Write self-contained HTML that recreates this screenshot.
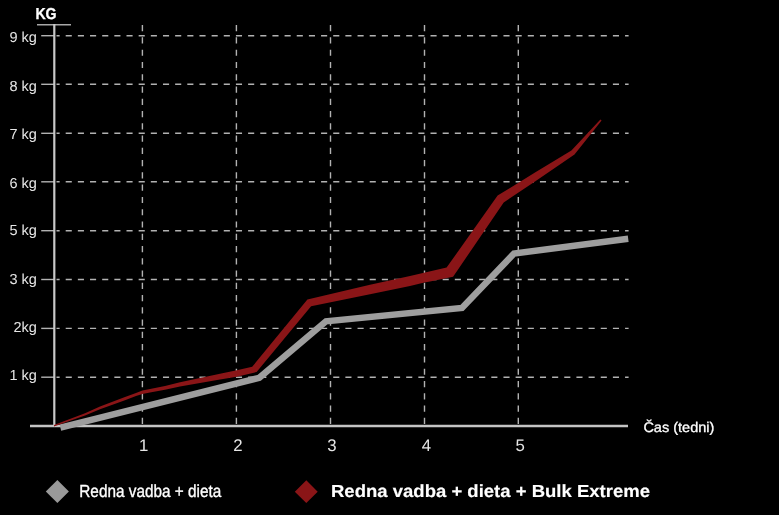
<!DOCTYPE html>
<html>
<head>
<meta charset="utf-8">
<style>
html,body{margin:0;padding:0;background:#000;width:779px;height:515px;overflow:hidden}
svg{display:block;will-change:transform;text-rendering:geometricPrecision}
.yl{font-family:"Liberation Sans",Arial,sans-serif;font-size:14.5px;fill:#e6e6e6}
.xl{font-family:"Liberation Sans",Arial,sans-serif;font-size:16.8px;fill:#e6e6e6}
</style>
</head>
<body>
<svg width="779" height="515" viewBox="0 0 779 515">
<rect x="0" y="0" width="779" height="515" fill="#000"/>
<!-- horizontal dashed gridlines -->
<g stroke="#b2b2b2" stroke-width="1.4" fill="none">
<g stroke-dasharray="6.1 6.06" stroke-dashoffset="2.96">
<line x1="56.5" y1="35.7" x2="628.6" y2="35.7"/>
<line x1="56.5" y1="84.3" x2="628.6" y2="84.3"/>
<line x1="56.5" y1="133.3" x2="628.6" y2="133.3"/>
<line x1="56.5" y1="181.8" x2="628.6" y2="181.8"/>
<line x1="56.5" y1="230.7" x2="628.6" y2="230.7"/>
<line x1="56.5" y1="279.5" x2="628.6" y2="279.5"/>
<line x1="56.5" y1="328.4" x2="628.6" y2="328.4"/>
<line x1="56.5" y1="377.2" x2="628.6" y2="377.2"/>
</g>
<!-- ticks -->
<line x1="41.2" y1="35.7" x2="54" y2="35.7"/>
<line x1="41.2" y1="84.3" x2="54" y2="84.3"/>
<line x1="41.2" y1="133.3" x2="54" y2="133.3"/>
<line x1="41.2" y1="181.8" x2="54" y2="181.8"/>
<line x1="41.2" y1="230.7" x2="54" y2="230.7"/>
<line x1="41.2" y1="279.5" x2="54" y2="279.5"/>
<line x1="41.2" y1="328.4" x2="54" y2="328.4"/>
<line x1="41.2" y1="377.2" x2="54" y2="377.2"/>
<!-- vertical dashed gridlines -->
<g stroke-dasharray="6.2 6.07">
<line x1="142.4" y1="25.1" x2="142.4" y2="425"/>
<line x1="236.4" y1="25.1" x2="236.4" y2="425"/>
<line x1="330.5" y1="25.1" x2="330.5" y2="425"/>
<line x1="424.5" y1="25.1" x2="424.5" y2="425"/>
<line x1="518.3" y1="25.1" x2="518.3" y2="425"/>
</g>
</g>
<!-- axes -->
<line x1="37" y1="24.75" x2="71" y2="24.75" stroke="#a8a8a8" stroke-width="1.5"/>
<line x1="54.3" y1="24" x2="54.3" y2="426" stroke="#c8c8c8" stroke-width="2.2"/>
<line x1="30" y1="426" x2="628" y2="426" stroke="#c4c4c4" stroke-width="2.3"/>

<!-- gray series -->
<polyline points="60.4,427.6 259.3,377.8 326,321.3 462,308 514,253.5 628.2,238.8" fill="none" stroke="#9e9e9e" stroke-width="6.5" stroke-linejoin="miter" stroke-linecap="butt"/>
<!-- red series -->
<polygon fill="#8a1517" points="54,424.9 85,413.2 100,406.5 125,397.1 136,393 142.4,390.6 150,388.9 165,385.9 180,382.3 220,373.8 236.8,370.3 252.2,366.8 307.4,299.5 370,284.7 410,275.9 446.6,267.6 497.6,195.6 535,172.6 571.4,150.4 600.4,119.6 601.6,120.6 574.5,154.4 535,181.4 503.7,202.4 453.1,276.8 430,281.6 424.4,282.6 410,286.1 370,294.2 311.1,306.2 256.6,372 236.8,376.7 220,379.6 180,386.5 165,389.8 150,392.6 142.4,394 136,396.1 125,400.3 100,409.3 85,415.6 54,426.6"/>

<!-- labels -->
<text x="0" y="0" transform="translate(35.4 18.8) scale(1 0.99)" font-family="Liberation Sans,Arial,sans-serif" font-weight="bold" font-size="16" fill="#fff" stroke="#fff" stroke-width="0.3" textLength="21.2" lengthAdjust="spacingAndGlyphs">KG</text>
<g class="yl" text-anchor="end">
<text x="36.8" y="42.2">9 kg</text>
<text x="36.8" y="91.2">8 kg</text>
<text x="36.8" y="139.1">7 kg</text>
<text x="36.8" y="187.9">6 kg</text>
<text x="36.8" y="235.3">5 kg</text>
<text x="36.8" y="284.3">3 kg</text>
<text x="36.8" y="332.0">2kg</text>
<text x="36.8" y="379.7">1 kg</text>
</g>
<g class="xl" text-anchor="middle">
<text x="143.6" y="450.8">1</text>
<text x="238" y="450.8">2</text>
<text x="332" y="450.8">3</text>
<text x="426.4" y="450.8">4</text>
<text x="520.2" y="450.8">5</text>
</g>
<text x="643.4" y="432" font-family="Liberation Sans,Arial,sans-serif" font-size="14" fill="#fff" stroke="#fff" stroke-width="0.3" textLength="71" lengthAdjust="spacingAndGlyphs">Čas (tedni)</text>

<!-- legend -->
<polygon points="57.4,480.1 68.9,491.5 57.4,503 45.8,491.5" fill="#999"/>
<text x="79.3" y="497.3" font-family="Liberation Sans,Arial,sans-serif" font-size="17.5" fill="#fff" stroke="#fff" stroke-width="0.35" textLength="142" lengthAdjust="spacingAndGlyphs">Redna vadba + dieta</text>
<polygon points="306.3,480.3 317.7,491.7 306.3,503.1 294.8,491.7" fill="#8a1517"/>
<text x="331" y="497.3" font-family="Liberation Sans,Arial,sans-serif" font-weight="bold" font-size="17.5" fill="#fff" stroke="#fff" stroke-width="0.15" textLength="319" lengthAdjust="spacingAndGlyphs">Redna vadba + dieta + Bulk Extreme</text>
</svg>
</body>
</html>
